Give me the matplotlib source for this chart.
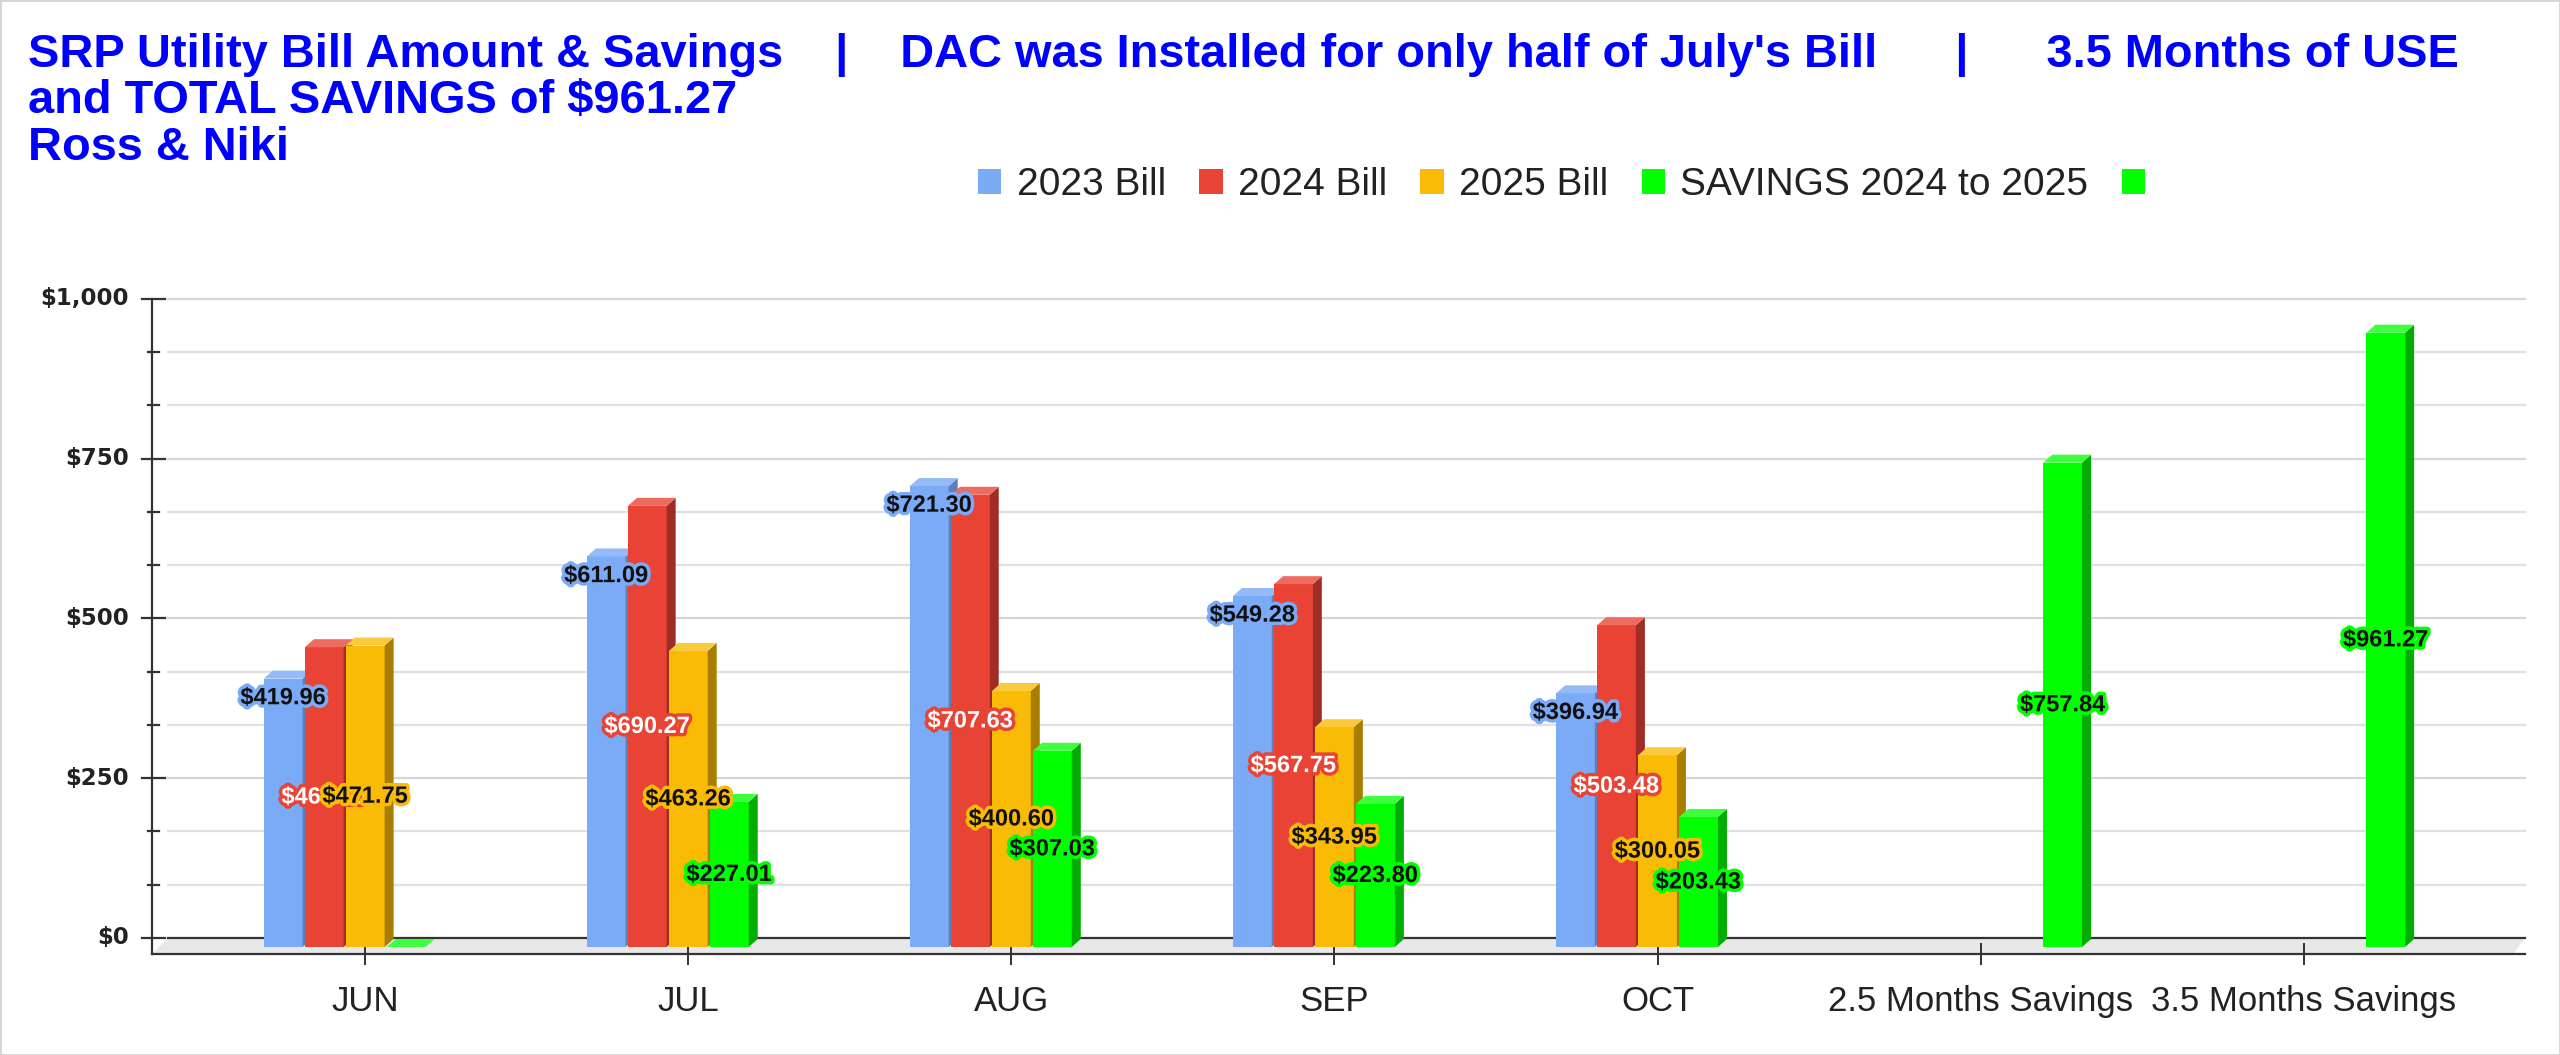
import numpy as np
import matplotlib
matplotlib.use("Agg")
import matplotlib.pyplot as plt
import matplotlib.patheffects as pe
from matplotlib.patches import Polygon, Rectangle
from matplotlib.transforms import ScaledTranslation

# ---- data ----
categories = ["JUN", "JUL", "AUG", "SEP", "OCT", "2.5 Months Savings", "3.5 Months Savings"]
bill_2023 = [419.96, 611.09, 721.30, 549.28, 396.94, np.nan, np.nan]
bill_2024 = [469.10, 690.27, 707.63, 567.75, 503.48, np.nan, np.nan]
bill_2025 = [471.75, 463.26, 400.60, 343.95, 300.05, np.nan, np.nan]
savings = [0.0, 227.01, 307.03, 223.80, 203.43, np.nan, np.nan]
savings_total = [np.nan, np.nan, np.nan, np.nan, np.nan, 757.84, 961.27]
series_names = ["2023 Bill", "2024 Bill", "2025 Bill", "SAVINGS 2024 to 2025", ""]

yticks = [0, 250, 500, 750, 1000]
ytick_labels = ["$0", "$250", "$500", "$750", "$1,000"]

title_lines = [
    "SRP Utility Bill Amount & Savings    |    DAC was Installed for only half of July's Bill      |      3.5 Months of USE",
    "and TOTAL SAVINGS of $961.27",
    "Ross & Niki",
]

# front, top, side, label text, label halo
styles = [
    ("#7baaf7", "#94bbf8", "#5b80bb", "#111111", "#7baaf7"),
    ("#e94336", "#ee6b60", "#a02d25", "#ffffff", "#e94336"),
    ("#f9bb05", "#fbca3c", "#a97d00", "#111111", "#f9bb05"),
    ("#00ff00", "#3dff3d", "#00ad00", "#111111", "#00ff00"),
    ("#00ff00", "#3dff3d", "#00ad00", "#111111", "#00ff00"),
]

FONT = "Liberation Sans"
W, H, DPI = 2560, 1055, 100

fig = plt.figure(figsize=(W / DPI, H / DPI), dpi=DPI)
fig.patch.set_facecolor("white")

# axes box in pixels (front plane of the floor)
left_px, right_px, top_px, bottom_px = 152, 2525, 299, 954
ax = fig.add_axes([left_px / W, 1 - bottom_px / H,
                   (right_px - left_px) / W, (bottom_px - top_px) / H])
ax.set_facecolor("none")
XLIM = (-0.66, 6.685)
YLIM = (-11, 1014)
ax.set_xlim(*XLIM)
ax.set_ylim(*YLIM)
px_x = (right_px - left_px) / (XLIM[1] - XLIM[0])
px_y = (bottom_px - top_px) / (YLIM[1] - YLIM[0])

# back wall sits 9px right / 9px up from the bar front plane
wall = ax.transData + ScaledTranslation(9 / DPI, 9 / DPI, fig.dpi_scale_trans)
raise_y = ax.transData + ScaledTranslation(0, 9 / DPI, fig.dpi_scale_trans)

# floor
v_back = 9 / px_y
floor = Polygon([(XLIM[0], YLIM[0]), (XLIM[1] - 12 / px_x, YLIM[0]),
                 (XLIM[1], v_back), (XLIM[0] + 16 / px_x, v_back)],
                closed=True, facecolor="#e8e8e8", edgecolor="none", zorder=1, clip_on=False)
ax.add_patch(floor)

# gridlines on the back wall
gx = [XLIM[0] + 7 / px_x, XLIM[1] - 9 / px_x]
for k in range(13):
    v = 1000 / 12 * k
    if k == 0:
        ax.plot(gx, [v, v], transform=wall, color="#333333", lw=1.6, zorder=2, clip_on=False)
    else:
        ax.plot(gx, [v, v], transform=wall, color="#e0e0e0" if k % 3 else "#d6d6d6",
                lw=1.6, zorder=2, clip_on=False)

# y ticks and labels
for k in range(13):
    v = 1000 / 12 * k
    if k % 3 == 0:
        ax.plot([XLIM[0] - 10 / px_x, XLIM[0] + 13 / px_x], [v, v], transform=raise_y,
                color="#333333", lw=1.6, clip_on=False, zorder=3)
    else:
        ax.plot([XLIM[0] - 4 / px_x, XLIM[0] + 7 / px_x], [v, v], transform=raise_y,
                color="#333333", lw=1.6, clip_on=False, zorder=3)
for v, lab in zip(yticks, ytick_labels):
    ax.text(XLIM[0] - 23 / px_x, v, lab, transform=raise_y, ha="right", va="center",
            fontsize=16.5, fontweight="bold", family="DejaVu Sans", color="#222222")
ax.set_yticks([])

# axes lines
for side in ("top", "right"):
    ax.spines[side].set_visible(False)
for side in ("left", "bottom"):
    ax.spines[side].set_color("#333333")
    ax.spines[side].set_linewidth(1.6)
    ax.spines[side].set_zorder(3)

ax.set_xticks(range(len(categories)))
ax.set_xticklabels(categories, fontsize=25, family=FONT, color="#222222")
ax.tick_params(axis="x", direction="inout", length=16.5, width=1.4, color="#333333", pad=14)

# 3D-ish bars
series = [bill_2023, bill_2024, bill_2025, savings, savings_total]
pitch, width = 0.127, 0.12
offsets = (np.arange(len(series)) - 2) * pitch
ddx, ddy = 9 / px_x, 8 / px_y

for s, vals in enumerate(series):
    front, topc, sidec, tcol, halo = styles[s]
    vals = np.array(vals, dtype=float)
    idx = np.where(~np.isnan(vals))[0]
    xs = idx + offsets[s]
    z = 10 + 2 * s
    ax.bar(xs, vals[idx], width, color=front, linewidth=0, zorder=z)
    for x, v in zip(xs, vals[idx]):
        xl, xr = x - width / 2, x + width / 2
        ax.add_patch(Polygon([(xr, 0), (xr + ddx, ddy), (xr + ddx, v + ddy), (xr, v)],
                             closed=True, facecolor=sidec, edgecolor="none", zorder=z + 0.5))
        ax.add_patch(Polygon([(xl, v), (xr, v), (xr + ddx, v + ddy), (xl + ddx, v + ddy)],
                             closed=True, facecolor=topc, edgecolor="none", zorder=z + 0.6))

# data labels
for s, vals in enumerate(series):
    front, topc, sidec, tcol, halo = styles[s]
    for i, v in enumerate(vals):
        if np.isnan(v) or v == 0:
            continue
        y = v - 30 if s == 0 else v / 2
        ax.text(i + offsets[s], y, f"${v:,.2f}", ha="center", va="center",
                fontsize=17, fontweight="bold", family=FONT, color=tcol, zorder=40,
                path_effects=[pe.withStroke(linewidth=5, foreground=halo)])

# legend
handles = [Rectangle((0, 0), 1, 1, facecolor=st[0], edgecolor="none") for st in styles]
leg = fig.legend(handles, series_names, loc="center left", bbox_to_anchor=(978 / W, 1 - 185 / H),
                 ncol=5, frameon=False, prop={"family": FONT, "size": 28},
                 handlelength=0.6, handleheight=0.6, handletextpad=0.4, columnspacing=0.85,
                 borderpad=0, borderaxespad=0)
for t in leg.get_texts():
    t.set_color("#222222")

# title
for n, line in enumerate(title_lines):
    fig.text(28 / W, 1 - (67 + 46.5 * n) / H, line, ha="left", va="baseline",
             fontsize=33.8, fontweight="bold", family=FONT, color="#0000ff")

fig.add_artist(Rectangle((0, 0), 1, 1, transform=fig.transFigure, fill=False,
                         edgecolor="#d4d4d4", lw=2))

fig.savefig("out.png", dpi=DPI)
